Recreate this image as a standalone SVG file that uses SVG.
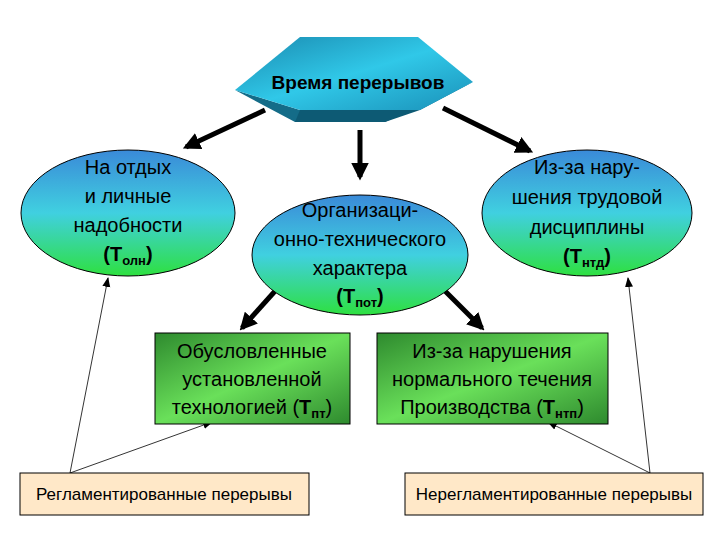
<svg xmlns="http://www.w3.org/2000/svg" width="720" height="540" viewBox="0 0 720 540">
<style>
.t{font-family:'Liberation Sans','DejaVu Sans',sans-serif;font-size:20px;fill:#000;text-anchor:middle}
.b{font-weight:bold}
.s{font-size:13px;font-weight:bold}
.o{font-family:'Liberation Sans','DejaVu Sans',sans-serif;font-size:17px;text-anchor:middle}
.thick{stroke:#000;stroke-width:5;fill:none;marker-end:url(#ah)}
.thin{stroke:#000;stroke-width:0.8;fill:none;marker-end:url(#as)}
</style>
<defs>
<linearGradient id="eg" x1="0" y1="0" x2="0" y2="1"><stop offset="0" stop-color="#3a8ad8"/><stop offset="0.5" stop-color="#40d0e0"/><stop offset="1" stop-color="#2ee040"/></linearGradient>
<linearGradient id="gg" x1="0" y1="0" x2="1" y2="1"><stop offset="0" stop-color="#2e8a2e"/><stop offset="0.5" stop-color="#6ae05a"/><stop offset="1" stop-color="#2e8a2e"/></linearGradient>
<linearGradient id="hg" x1="0" y1="0" x2="1" y2="1"><stop offset="0" stop-color="#1a8ab0"/><stop offset="0.5" stop-color="#30c8e8"/><stop offset="1" stop-color="#1a90b8"/></linearGradient>
<marker id="ah" viewBox="0 0 10 10" refX="8" refY="5" markerWidth="3.5" markerHeight="3.5" orient="auto"><path d="M0,0 L10,5 L0,10 z" fill="#000"/></marker>
<marker id="as" viewBox="0 0 10 10" refX="9" refY="5" markerWidth="10" markerHeight="10" orient="auto" markerUnits="userSpaceOnUse"><path d="M0,1 L10,5 L0,9 z" fill="#000"/></marker>
</defs>
<g id="connectors">
<line class="thick" x1="265" y1="110" x2="186" y2="147"/>
<line class="thick" x1="360" y1="130" x2="360" y2="177"/>
<line class="thick" x1="443" y1="108" x2="530" y2="151"/>
<line class="thick" x1="276" y1="290" x2="242" y2="328"/>
<line class="thick" x1="444" y1="290" x2="482" y2="328"/>
<line class="thin" x1="70" y1="473" x2="108" y2="278"/>
<line class="thin" x1="70" y1="473" x2="212" y2="422"/>
<line class="thin" x1="650" y1="473" x2="628" y2="278"/>
<line class="thin" x1="650" y1="473" x2="548" y2="422"/>
</g>
<g id="root">
<polygon points="235,90 295,122 385,122 473,82 420,110 300,110" fill="#146c88"/>
<polygon points="235,90 300,37 418,37 473,82 420,110 300,110" fill="url(#hg)"/>
<polygon points="295,122 385,122 420,110 300,110" fill="#0d5a74"/>
<text class="t b" x="358" y="89" style="font-size:19px">Время перерывов</text>
</g>
<g id="n1">
<ellipse cx="128" cy="213" rx="107" ry="63" fill="url(#eg)" stroke="#000"/>
<text class="t" x="128" y="174">На отдых</text>
<text class="t" x="128" y="203">и личные</text>
<text class="t" x="128" y="232">надобности</text>
<text class="t b" x="128" y="261">(Т<tspan class="s" dy="4">олн</tspan><tspan dy="-4">)</tspan></text>
</g>
<g id="n2">
<ellipse cx="360" cy="255" rx="108" ry="60" fill="url(#eg)" stroke="#000"/>
<text class="t" x="360" y="217">Организаци-</text>
<text class="t" x="360" y="246">онно-технического</text>
<text class="t" x="360" y="275">характера</text>
<text class="t b" x="360" y="303">(Т<tspan class="s" dy="4">пот</tspan><tspan dy="-4">)</tspan></text>
</g>
<g id="n3">
<ellipse cx="587" cy="213" rx="105" ry="63" fill="url(#eg)" stroke="#000"/>
<text class="t" x="587" y="174">Из-за нару-</text>
<text class="t" x="587" y="204">шения трудовой</text>
<text class="t" x="587" y="234">дисциплины</text>
<text class="t b" x="587" y="263">(Т<tspan class="s" dy="4">нтд</tspan><tspan dy="-4">)</tspan></text>
</g>
<g id="g1">
<rect x="155" y="333" width="195" height="91" fill="url(#gg)" stroke="#000"/>
<text class="t" x="252" y="358">Обусловленные</text>
<text class="t" x="252" y="386">установленной</text>
<text class="t" x="252" y="414">технологией (<tspan class="b">Т</tspan><tspan class="s" dy="4">пт</tspan><tspan dy="-4">)</tspan></text>
</g>
<g id="g2">
<rect x="377" y="333" width="231" height="91" fill="url(#gg)" stroke="#000"/>
<text class="t" x="492" y="358">Из-за нарушения</text>
<text class="t" x="492" y="386">нормального течения</text>
<text class="t" x="492" y="414">Производства (<tspan class="b">Т</tspan><tspan class="s" dy="4">нтп</tspan><tspan dy="-4">)</tspan></text>
</g>
<g id="r1">
<rect x="20" y="473" width="289" height="42" fill="#ffe8c8" stroke="#000"/>
<text class="o" x="164" y="500">Регламентированные перерывы</text>
</g>
<g id="r2">
<rect x="405" y="473" width="298" height="42" fill="#ffe8c8" stroke="#000"/>
<text class="o" x="554" y="500">Нерегламентированные перерывы</text>
</g>
</svg>
